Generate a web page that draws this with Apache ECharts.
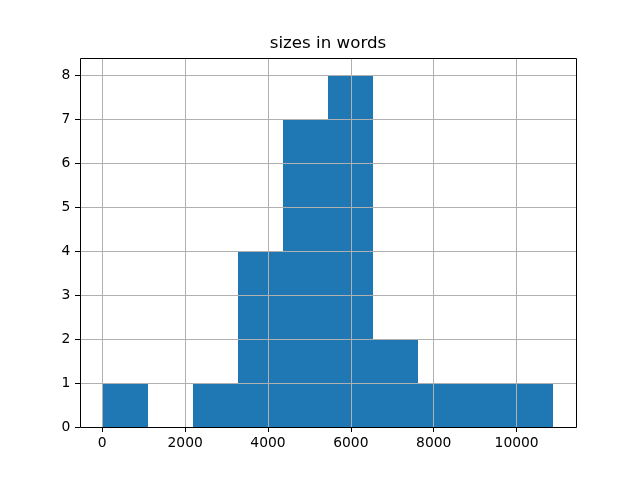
<!DOCTYPE html>
<html>
<head>
<meta charset="utf-8">
<script src="https://cdn.jsdelivr.net/npm/echarts@6/dist/echarts.min.js"></script>
<style>html,body{margin:0;padding:0;background:#fff}#c{width:640px;height:480px}</style>
</head>
<body>
<div id="c"></div>
<script>
var binEdges = [7, 1095, 2183, 3271, 4359, 5448, 6536, 7624, 8712, 9800, 10889];
var counts = [1, 0, 1, 4, 7, 8, 2, 1, 1, 1];
var xTicks = [0, 2000, 4000, 6000, 8000, 10000];
var yTicks = [0, 1, 2, 3, 4, 5, 6, 7, 8];
var titleText = 'sizes in words';

var data = [];
for (var i = 0; i < counts.length; i++) {
  data.push([binEdges[i], binEdges[i + 1], counts[i]]);
}

var chart = echarts.init(document.getElementById('c'), null, {renderer: 'canvas'});
var font = 'DejaVu Sans';
chart.setOption({
  animation: false,
  backgroundColor: '#fff',
  graphic: [{
    type: 'text', x: 328, y: 43.5,
    style: {text: titleText, font: '16.67px "DejaVu Sans"', fill: '#000', textAlign: 'center', textVerticalAlign: 'middle'}
  }, {
    type: 'rect', z: 100, silent: true,
    shape: {x: 80.5, y: 58.5, width: 496, height: 369},
    style: {fill: 'none', stroke: '#000', lineWidth: 1}
  }],
  grid: {left: 80, right: 64, top: 58, bottom: 53},
  xAxis: {
    type: 'value', min: -537, max: 11433, z: 5,
    axisLine: {show: false, onZero: false},
    axisTick: {show: true, inside: false, length: 5, customValues: xTicks, lineStyle: {color: '#000', width: 1}},
    axisLabel: {customValues: xTicks, margin: 9.7, color: '#000', fontSize: 13.89, fontFamily: font,
      formatter: function (v) { return String(v); }},
    splitLine: {show: true, lineStyle: {color: '#b0b0b0', width: 1}}
  },
  yAxis: {
    type: 'value', min: 0, max: 8.4, z: 5,
    axisLine: {show: false, onZero: false},
    axisTick: {show: true, inside: false, length: 5, customValues: yTicks, lineStyle: {color: '#000', width: 1}},
    axisLabel: {customValues: yTicks, margin: 9.7, color: '#000', fontSize: 13.89, fontFamily: font,
      formatter: function (v) { return String(v); }},
    splitLine: {show: true, lineStyle: {color: '#b0b0b0', width: 1}}
  },
  series: [{
    type: 'custom',
    z: 2,
    data: data,
    encode: {x: [0, 1], y: 2},
    renderItem: function (params, api) {
      if (api.value(2) <= 0) return null;
      var p0 = api.coord([api.value(0), api.value(2)]);
      var p1 = api.coord([api.value(1), 0]);
      var x0 = Math.round(p0[0]), x1 = Math.round(p1[0]);
      var y0 = Math.round(p0[1]), y1 = Math.round(p1[1]);
      return {
        type: 'rect',
        shape: {x: x0, y: y0, width: x1 - x0, height: y1 - y0},
        style: {fill: '#1f77b4'}
      };
    }
  }]
});
</script>
</body>
</html>
